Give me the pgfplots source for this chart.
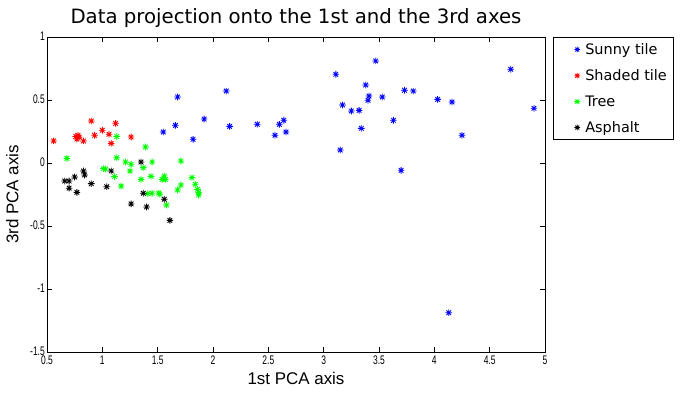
\documentclass[border=0pt]{standalone}
\usepackage{fontspec}
\setmainfont{DejaVu Sans}
\newfontfamily\tickfont[FakeStretch=0.68]{Liberation Sans}
\newfontfamily\labfont{Liberation Sans}
\usepackage{pgfplots}
\pgfplotsset{compat=1.18}

\pgfdeclareplotmark{mstar}{%
  \pgfpathmoveto{\pgfqpoint{-\pgfplotmarksize}{0pt}}%
  \pgfpathlineto{\pgfqpoint{\pgfplotmarksize}{0pt}}%
  \pgfpathmoveto{\pgfqpoint{0pt}{-\pgfplotmarksize}}%
  \pgfpathlineto{\pgfqpoint{0pt}{\pgfplotmarksize}}%
  \pgfpathmoveto{\pgfqpoint{-0.7\pgfplotmarksize}{-0.7\pgfplotmarksize}}%
  \pgfpathlineto{\pgfqpoint{0.7\pgfplotmarksize}{0.7\pgfplotmarksize}}%
  \pgfpathmoveto{\pgfqpoint{-0.7\pgfplotmarksize}{0.7\pgfplotmarksize}}%
  \pgfpathlineto{\pgfqpoint{0.7\pgfplotmarksize}{-0.7\pgfplotmarksize}}%
  \pgfusepathqstroke}

\pgfplotsset{pts/.style={only marks, mark=mstar, mark size=3.3bp,
  every mark/.append style={line width=0.85pt}}}

\begin{document}
\begin{tikzpicture}
\begin{axis}[
  name=ax,
  scale only axis,
  width=498bp, height=315bp,
  xmin=0.5, xmax=5, ymin=-1.5, ymax=1,
  xtick={0.5,1,...,5}, ytick={-1.5,-1,...,1},
  tick align=inside,
  major tick length=5bp,
  tick style={black, line width=0.5pt},
  axis line style={line width=0.6pt},
  /pgf/number format/assume math mode=true,
  tick label style={font=\tickfont\fontsize{12.5}{13}\selectfont},
  xticklabel style={inner sep=2bp, yshift=-1.5bp},
  yticklabel style={inner sep=2bp, yshift=1bp},
  xlabel={1st PCA axis},
  ylabel={3rd PCA axis},
  xlabel style={font=\labfont\fontsize{17}{18}\selectfont,
    at={(axis description cs:0.5,-0.054)}, anchor=north},
  ylabel style={font=\labfont\fontsize{17}{18}\selectfont,
    at={(axis description cs:-0.05,0.5)}, anchor=south},
  title={Data projection onto the 1st and the 3rd axes},
  title style={font=\fontsize{19.8}{22}\selectfont,
    at={(axis description cs:0.5,1)}, anchor=south, yshift=0bp},
  legend style={at={(1.016,1)}, anchor=north west, draw=black, line width=0.6pt,
    font=\fontsize{14.5}{16}\selectfont, row sep=9.7bp, inner xsep=4bp, inner ysep=4bp},
  legend image code/.code={%
    \path[draw=none] (-20bp,0bp) -- (6bp,0bp);
    \draw[mark size=2.8bp] plot coordinates {(0bp,0bp)};},
  legend cell align=left,
]
\addplot[blue, pts] coordinates {
(1.68,0.524) (1.55,0.246) (1.66,0.299) (1.82,0.188) (1.92,0.349)
(2.12,0.571) (2.15,0.291) (2.40,0.307) (2.56,0.220) (2.60,0.307)
(2.64,0.339) (2.66,0.246) (3.11,0.704) (3.15,0.103) (3.17,0.460)
(3.25,0.413) (3.32,0.418) (3.34,0.275) (3.38,0.619) (3.40,0.498)
(3.41,0.532) (3.47,0.810) (3.53,0.524) (3.63,0.339) (3.70,-0.058)
(3.73,0.577) (3.81,0.571) (4.03,0.505) (4.16,0.484) (4.25,0.220)
(4.69,0.744) (4.90,0.434) (4.13,-1.188)
};
\addlegendentry{Sunny tile}
\addplot[red, pts] coordinates {
(0.56,0.175) (0.76,0.210) (0.78,0.220) (0.77,0.190) (0.79,0.205)
(0.83,0.175) (0.90,0.333) (0.93,0.220) (1.00,0.260) (1.06,0.228)
(1.08,0.156) (1.12,0.315) (1.26,0.206)
};
\addlegendentry{Shaded tile}
\addplot[green, pts] coordinates {
(0.68,0.037) (1.13,0.210) (1.39,0.127) (1.13,0.042) (1.03,-0.048)
(1.01,-0.045) (1.21,0.008) (1.26,-0.010) (1.45,0.008) (1.37,-0.037)
(1.25,-0.063) (1.11,-0.108) (1.17,-0.183) (1.35,-0.130) (1.44,-0.106)
(1.54,-0.130) (1.56,-0.103) (1.57,-0.130) (1.71,0.016) (1.41,-0.243)
(1.45,-0.240) (1.51,-0.238) (1.52,-0.248) (1.58,-0.333) (1.68,-0.214)
(1.71,-0.175) (1.81,-0.116) (1.84,-0.169) (1.86,-0.209) (1.87,-0.235)
(1.87,-0.254)
};
\addlegendentry{Tree}
\addplot[black, pts] coordinates {
(0.66,-0.143) (0.70,-0.143) (0.70,-0.200) (0.75,-0.111) (0.77,-0.233)
(0.83,-0.063) (0.84,-0.095) (0.90,-0.164) (1.04,-0.188) (1.08,-0.063)
(1.35,0.008) (1.26,-0.325) (1.37,-0.240) (1.40,-0.349) (1.56,-0.288)
(1.61,-0.455)
};
\addlegendentry{Asphalt}
\end{axis}
\pgfresetboundingbox
\path[use as bounding box] ([shift={(-47bp,-42bp)}]ax.south west) rectangle ([shift={(135bp,37bp)}]ax.north east);
\end{tikzpicture}
\end{document}
